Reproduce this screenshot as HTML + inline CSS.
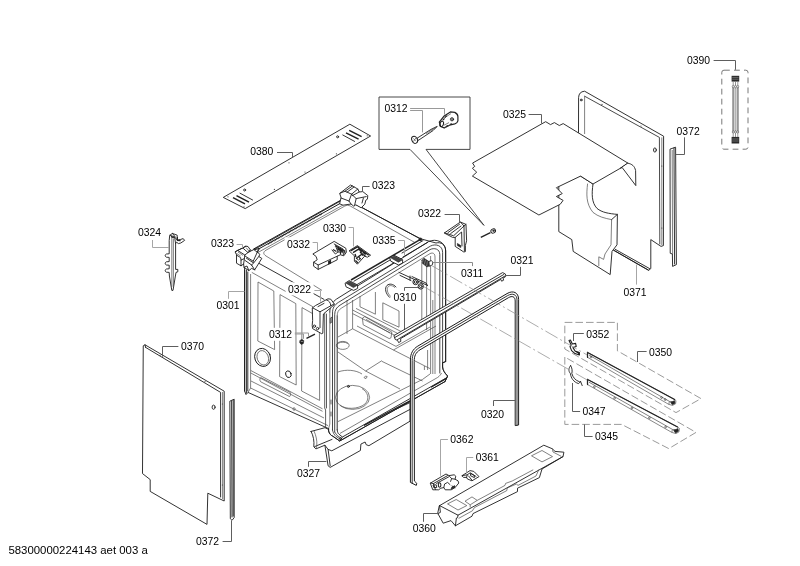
<!DOCTYPE html>
<html><head><meta charset="utf-8"><title>Explosionszeichnung</title>
<style>
html,body{margin:0;padding:0;background:#fff;}
body{width:800px;height:566px;overflow:hidden;}
svg{display:block;filter:grayscale(1);}
text{font-family:"Liberation Sans",sans-serif;font-size:10.4px;fill:#000;}
.m{fill:none;stroke:#1c1c1c;stroke-width:.9;stroke-linejoin:round;stroke-linecap:round;}
.w{fill:#fff;stroke:#1c1c1c;stroke-width:.9;stroke-linejoin:round;stroke-linecap:round;}
.g{fill:none;stroke:#4a4a4a;stroke-width:.7;stroke-linejoin:round;}
.l{fill:none;stroke:#5e5e5e;stroke-width:1;stroke-linejoin:miter;}
.ll{stroke:#a6a6a6;}
.d{fill:none;stroke:#808080;stroke-width:.8;stroke-dasharray:7.6 3;}
.ax{fill:none;stroke:#888;stroke-width:.7;stroke-dasharray:14 3 2 3;}
.k{fill:#222;stroke:#222;stroke-width:.6;}
</style></head><body>
<svg width="800" height="566" viewBox="0 0 800 566">
<rect width="800" height="566" fill="#fff"/>


<!-- 0380 strip -->
<g id="p0380">
<path class="w" d="M350.2 124.4 L370.6 136 L245.2 208.6 L223.6 197.6 Z"/>
<path d="M346 132.8 L358.6 139.2 M349.2 130.4 L361.6 136.6 M233 197.6 L245 203.8 M236.5 195.6 L249 202.2" stroke="#222" stroke-width="1.5" fill="none"/>
<path class="m" d="M342.8 135 L354.6 141.4 M240 193.2 L252.6 200"/>
<circle class="m" cx="337.6" cy="136.8" r="1"/><circle class="m" cx="244.6" cy="190" r="1"/>
<g fill="#444"><circle cx="367.2" cy="135.8" r=".6"/><circle cx="336.4" cy="153.8" r=".6"/><circle cx="305" cy="172" r=".6"/><circle cx="289" cy="162.8" r=".6"/><circle cx="274.4" cy="189.4" r=".6"/><circle cx="228" cy="196.8" r=".6"/><circle cx="244" cy="206.8" r=".6"/></g>
<path class="l" d="M277 152.5 L292.5 152.5 L292.5 157.5"/>
</g>
<!-- 0324 -->
<g id="p0324">
<path class="w" d="M170 235.2 L172.4 233.4 L177.2 235.2 L177.2 240 L180.8 239.4 L183.2 238.6 L184.6 240.4 L180.8 243 L178.4 243.6 L176.6 242.2 L175.6 243.6 L175.6 269.4 L177.8 269.4 L177.8 271.8 L176 272.4 L175.4 276 L173 290.4 L171.8 290.4 L169.4 276 L169.2 272.4 L166.4 272.2 C164.8 271.6 164.8 269.6 166.4 269 L169.2 268.8 L169.2 265.2 L166.4 265 C164.8 264.4 164.8 262.4 166.4 261.8 L169.2 261.6 L169.2 257.4 L166.4 257.2 C164.8 256.6 164.8 254.6 166.4 254 L169.2 253.8 L169.2 241 Z"/>
<path class="g" d="M171.8 237 V287 M173.4 239 V286"/>
<path class="m" d="M170 235.2 L174.6 237 L177.2 240 M174.6 237 L175.6 243.6 M172.4 233.4 L175 236.6"/>
<path d="M171 236.4 L174 238 M177.4 237 L177.4 240.4 L180.6 240.6" stroke="#222" stroke-width="1.2" fill="none"/>
<path class="l ll" d="M152.5 240 L152.5 247.5 L169 247.5"/>
</g>
<!-- 0312 box -->
<g id="box0312">
<path class="m" style="stroke:#333" d="M379.4 97 H470 V149.4 H426 L484 225.4 L410 149.4 H379.4 Z"/>
<path class="l" style="stroke:#999;stroke-width:1" d="M408.6 108.5 L444.5 108.5 L444.5 114.6 M408.6 110.5 L422.5 110.5 L422.5 132.4"/>
<path class="w" d="M417.4 138 L431 129.4 L437.2 126.4 L433 130.6 L418.6 140.2 Z"/>
<path d="M426 133.4 L436 127.2" stroke="#555" stroke-width="1.6" stroke-dasharray=".6 .6" fill="none"/>
<ellipse class="w" cx="414.6" cy="139.8" rx="2.7" ry="3.7" transform="rotate(-25 414.6 139.8)" style="stroke-width:1"/>
<path class="g" d="M413.4 138.4 L415.8 141.2 M415.8 138 L413.4 141.6"/>
<path d="M439.3 122.1 L444.2 115.9 L450.4 111.9 L454.8 112.4 C457 113.6 457.9 115 457.9 116.4 L457.9 120.8 C457.4 122.6 456.4 123.4 454.8 123.9 L449.5 125.2 L444.2 127.9 L440.7 126.5 Z" fill="#fff" stroke="#222" stroke-width="1.2" stroke-linejoin="round"/>
<ellipse class="m" cx="441.7" cy="124" rx="1.7" ry="2.8" transform="rotate(20 441.7 124)" style="stroke-width:1"/>
<path class="g" d="M441 121.6 L446.6 116.4 L451 113.6 M443.6 125.4 L449 122.6 M444.2 127.9 L449.5 125.2"/>
<path d="M444.6 117.6 L447 115.6 M443 120 L444.4 118.6 M446 126.4 L448 125.4 M450 124.2 L452 123.8" stroke="#222" stroke-width="1.1" fill="none"/>
<circle class="m" cx="452" cy="119.3" r="1.6"/>
<path d="M451 118.4 L453 120.2 M453 118.4 L451 120.2" stroke="#222" stroke-width=".6"/>
</g>

<!-- 0371 panel -->
<g id="p0371">
<path class="w" d="M578.6 97.2 C578.8 93.6 580.6 91.6 584.6 91.2 L663.6 136.2 L663.4 245.6 L661 246.4 L650.8 239.6 L650.8 268.6 L648.6 270.4 L578.6 230 Z"/>
<path class="m" d="M584.6 96.2 L659.4 137.4 L659.8 244" style="stroke-width:.8"/>
<path class="g" d="M584.6 96.2 L584.6 134"/>
<path class="g" d="M661.8 137.4 V245"/>
<ellipse class="m" cx="654.9" cy="150" rx="1.4" ry="2.1"/>
<circle class="m" cx="581.2" cy="100" r=".9"/>
<g fill="#444"><circle cx="602" cy="104.4" r=".6"/><circle cx="641" cy="126" r=".6"/><circle cx="661.8" cy="166" r=".6"/><circle cx="661.8" cy="228" r=".6"/></g>
<path class="m" d="M614 250.4 L648.4 270 M615 249.2 L649.6 268.6"/>
<path class="l ll" d="M636.5 264.6 L636.5 284.6"/>
</g>
<!-- 0325 insulation -->
<g id="p0325">
<path class="w" d="M558.8 185.6 L558.8 231.6 L571.8 239.6 L573.2 251.4 L610.2 274.6 L612 251.4 L617 244.8 L617.4 214.4 C609 213.6 602 212.6 597 208.4 C591.6 202.6 591.6 194 593 184 L580.4 176 Z"/>
<path class="g" d="M587.6 183.6 C586.4 194 585.8 203.6 593 212.4 C598 216.6 605 218.4 611.6 219.6 L611 244.8 L605 254 L603.6 259.4 L598.8 256.8 L598.8 266"/>
<path class="m" d="M617.4 214.4 L611.6 219.6"/>
<path class="w" d="M542.2 123.6 L545.7 121.7 L550.5 124.6 L554.4 122.6 L559.3 125.5 L563.2 123.6 L628 163.2 L620.8 168 L593 184 L580.6 176.1 L556.4 187.7 L562.2 193.6 L556.4 196.5 L563.1 200.4 L560.2 204.3 L538.9 215 L472.4 176.1 L476.7 172.2 L472.4 168.3 L474.7 166.4 L472.8 163.4 Z"/>
<path class="w" d="M628 163.2 C632 164 634.6 166 635.6 170.6 L635.8 185.6 L622.2 167.6 L620.8 168 Z"/>
<path class="l" d="M527.6 114.5 L541.5 114.5 L541.5 123.6"/>
</g>
<!-- 0372 right strip -->
<g id="p0372r">
<path class="w" d="M670.4 149 L675.6 147.2 L676.4 264.6 L672.6 266.4 L672.4 254 L670.6 253.4 Z"/>
<path class="m" d="M674 148 L674.6 264"/>
<path class="g" d="M672.2 150 L672.6 254"/>
<path class="l" d="M684.5 136.4 L684.5 154.5 L676 154.5"/>
</g>
<!-- 0390 -->
<g id="p0390">
<rect class="d" x="721.8" y="70.2" width="26.2" height="79" rx="2.2" style="stroke-dasharray:5.8 4.2;stroke:#6a6a6a;stroke-width:.9"/>
<path class="l" d="M713.6 60.5 L735.5 60.5 L735.5 69.8"/>
<rect x="731.6" y="75.8" width="7.6" height="5.8" fill="#2a2a2a"/>
<rect x="731.6" y="136.9" width="7.6" height="6.6" fill="#2a2a2a"/>
<path d="M732.2 77.4 H738.6 M732.2 79.2 H738.6 M732.2 139 H738.6 M732.2 141 H738.6" stroke="#aaa" stroke-width=".5" fill="none"/>
<path d="M733.2 81.6 V137 M735.6 81.6 V137 M737.8 81.6 V137" stroke="#fff" stroke-width=".4" fill="none"/>
<path style="fill:none;stroke:#444;stroke-width:1.5" d="M733.2 87.6 V131 M735.5 87.6 V131 M737.8 87.6 V131"/>
<path style="fill:none;stroke:#fff;stroke-width:.6" d="M733.2 87.6 V131 M735.5 87.6 V131 M737.8 87.6 V131"/>
<g fill="#fff" stroke="#333" stroke-width=".55"><ellipse cx="733.2" cy="86.6" rx=".9" ry="1.3"/><ellipse cx="735.5" cy="86.6" rx=".9" ry="1.3"/><ellipse cx="737.8" cy="86.6" rx=".9" ry="1.3"/><ellipse cx="733.2" cy="132" rx=".9" ry="1.3"/><ellipse cx="735.5" cy="132" rx=".9" ry="1.3"/><ellipse cx="737.8" cy="132" rx=".9" ry="1.3"/></g>
<path style="fill:none;stroke:#3a3a3a;stroke-width:.55" d="M733.2 81.6 V85.2 M735.5 81.6 V85.2 M737.8 81.6 V85.2 M733.2 133.4 V137 M735.5 133.4 V137 M737.8 133.4 V137"/>
</g>

<!-- 0370 left panel -->
<g id="p0370">
<path class="w" d="M143.6 345.6 L145 344.8 L224.2 391.2 L224.2 501 L207.8 493.2 L207 524.4 L150.2 491.4 L150.2 479.6 L142.8 473.8 Z"/>
<path class="m" d="M145.6 347.4 L220.6 392.4 L220.6 497 M145 344.8 L145.6 347.4"/>
<path class="g" d="M222.6 392 V499"/>
<ellipse class="m" cx="213.6" cy="407.2" rx="1.5" ry="2.1"/>
<g fill="#444"><circle cx="160" cy="355.4" r=".6"/><circle cx="162.6" cy="357.2" r=".6"/><circle cx="205" cy="381.6" r=".6"/><circle cx="222.4" cy="404" r=".6"/><circle cx="222.4" cy="485" r=".6"/></g>
<path class="l" d="M178.6 346.5 L162.5 346.5 L162.5 356.6"/>
</g>
<!-- 0372 left strip -->
<g id="p0372l">
<path class="w" d="M230.2 401 L234.2 399.2 L234.2 517.6 L232 520.4 L230.6 519 Z"/>
<path class="m" d="M231.6 401 L232 517 M233.2 400.2 V516"/>
<path class="l" d="M222.6 541.5 L231.5 541.5 L231.5 520.6"/>
</g>
<!-- rails dashed boxes -->
<g id="rails">
<path class="d" d="M564.8 322.4 H617.4 V350.8 L701 398.6 L676 412.6 L564.8 349 Z"/>
<path class="d" d="M564.8 357 V424.4 H621.6 L668.8 448.6 L696 432.4 Z"/>
<!-- upper rail 0350 -->
<path class="w" style="stroke:#555;stroke-width:.7" d="M587.6 352.4 L674.6 399.4 L676 400.6 L675.6 403.8 L672.6 405.4 L668.8 404.4 L587.6 357.4 Z"/>
<path d="M587.6 352.4 L674.6 399.4 M587.6 352.4 V357.4" stroke="#222" stroke-width="1.1" fill="none" stroke-linecap="round"/>
<path class="g" d="M589 355 L669.4 401.4 L672.4 401.6 M668.8 404.4 L669.4 401.4"/>
<path class="k" d="M670.6 402.4 L674.6 400.6 L675 403.2 L672.4 404.8 Z"/>
<g fill="none" stroke="#333" stroke-width=".6"><circle cx="591" cy="357" r=".9"/><circle cx="661.6" cy="397.6" r=".9"/><circle cx="665.2" cy="399.6" r=".9"/></g>
<!-- lower rail 0345 -->
<path class="w" style="stroke:#555;stroke-width:.7" d="M587.6 379.4 L677.6 427 L679.4 428.4 L679 431.8 L676 433.6 L671.8 432.4 L587.6 384.6 Z"/>
<path d="M587.6 379.4 L677.6 427 M587.6 379.4 V384.6" stroke="#222" stroke-width="1.1" fill="none" stroke-linecap="round"/>
<path class="g" d="M589 382.2 L672.4 429.4 L675.6 429.6 M671.8 432.4 L672.4 429.4"/>
<path class="k" d="M673.6 430.4 L678 428.6 L678.4 431.2 L675.6 433 Z"/>
<g fill="none" stroke="#333" stroke-width=".6"><circle cx="594.4" cy="386.8" r=".9"/><circle cx="614.6" cy="398.2" r=".9"/><circle cx="632" cy="408" r=".9"/><circle cx="649.4" cy="417.8" r=".9"/><circle cx="665.6" cy="427" r=".9"/></g>
<!-- 0352 clip -->
<path class="m" style="stroke-width:1.1" d="M569 340.6 L570.4 340 L572.4 344 L575.6 343.4 L576.2 346.4 L573 347.6 L575 351 L578.4 353 L579.4 355 L575 353.6 L571.6 350.6 L570 346.6 L571.2 345 Z M575 351 L579.4 352.6 L579.4 355"/>
<!-- 0347 hook -->
<path class="m" style="stroke-width:.9" d="M570.6 365.6 C568.6 368 568.2 371 570.4 373.6 C571 378 573.4 382 578.6 383.6 L580.6 381.6 L582.2 385.6 M570.6 365.6 C572 367.6 572.6 370.6 571.8 373.4 C573 377.6 575.4 380.4 579.6 381.8 L580.6 381.6"/>
<path class="l" d="M584.6 333.5 L573.5 333.5 L573.5 341 M647 351.5 L637.5 351.5 L637.5 362 M581 411.5 L572.5 411.5 L572.5 383 M593.4 436.5 L584.5 436.5 L584.5 424.4"/>
</g>

<!-- 0360 tray -->
<g id="p0360">
<path class="w" d="M439.6 505.6 L543.8 445.2 L552.4 448.8 L555 451.4 L563.9 452.2 L563 456.6 L542 469 L539.4 477.6 L517.5 488.2 L517.5 491.6 L473 513.6 L472 516.2 L455.4 525.8 L451 520.6 L443.2 523.2 L437.9 513.6 Z"/>
<path class="m" d="M439.6 505.6 L458 515.2 L563 456.6 M458 515.2 L457.6 517.6 L456.4 518 L455.4 525.8 M437.9 513.6 L440.4 512.4 L439.6 505.6"/>
<path class="g" d="M477.2 500.4 L505 485.4 L505.6 483.4 L512.2 481 L533.2 469.8 M552.4 448.8 L553 452 L561.4 456.4"/>
<path class="g" d="M447.5 503.9 L456.2 499.5 L466.8 505.6 L458 510 Z M531.5 455.8 L542 450.5 L552.5 456.6 L542 461.9 Z M465 501.2 L472 496.9 L477.2 500.4 L470.2 504.8 Z M470.2 504.8 V507.4"/>
<path class="g" d="M458.6 518.4 L472.4 510.8 L474.4 507.6 L506.8 490.6 L507.2 488 L516.4 484 L518 485.4 L536 476 L538.8 469.6"/>
<path class="l" d="M423.5 524 L423.5 513.5 L438 513.5"/>
</g>
<!-- 0362 -->
<g id="p0362">
<path class="w" d="M430.6 483 L446 474 L449 475.6 L454.2 474.8 L455.8 476.2 L455 479.2 L458 480.8 L458.8 483 L455 487.6 L451.2 489.8 L445.2 489.8 L443.8 487.6 L440.8 488.2 L438.6 489.8 L433.2 489.8 Z"/>
<path class="m" d="M430.6 483 L433.4 483.6 L447.6 475.6 M433.4 483.6 L435.4 489.4 M436.6 483.4 L449.6 476.4 L451.6 478.6 L450.6 481.4 M443.8 487.6 L444.6 484 L447.6 482.4 L450 484.6 M451.6 478.6 L455 479.2 M452 486 L455 487.6"/>
<path class="m" d="M433.4 485 L436.2 484.8 L436.8 487.4 L434.2 487.6 Z"/>
<ellipse cx="439.6" cy="485" rx="1.3" ry="2.2" fill="#fff" stroke="#222" stroke-width="1.1"/>
<path class="k" d="M451 488 L454.6 485.6 L455 486.8 L451.6 489.2 Z"/>
<path class="l ll" d="M448.4 439.5 L440.5 439.5 L440.5 475.8"/>
</g>
<!-- 0361 -->
<g id="p0361">
<path class="w" d="M462.2 475.6 L470 470.6 L473.8 471.4 L479 476.6 L472 480.8 L467.4 479 L466.6 477.4 L464 477.4 Z"/>
<path class="m" d="M466.6 477.4 L467.2 474.8 L470.2 472.8 L476 476.4 M462.2 475.6 L467.2 474.8 M470.8 473.6 L474.4 475.6 L474.4 477.6 L471 476 Z M468.6 476 L472 480.2"/>
<path class="l ll" d="M473.8 457.5 L466.5 457.5 L466.5 472.6"/>
</g>
<!-- 0327 base -->
<g id="p0327">
<path class="w" d="M311.1 431.4 L325 427.7 L340 435 L410 402.6 L410 421.2 L368.9 445.7 L366.2 444.7 L365.1 442 L360.9 444.1 L360.4 450.5 L330.2 467.4 L328.1 465.8 L324.9 445.2 L315.9 448.9 L313.8 446.8 C314.4 441 313.4 436 311.1 431.4 Z"/>
<path class="m" d="M324.9 445.2 L328.1 449.4 L331.8 450.8 L410 409.4 M328.1 449.4 L330.2 465.8 M314.6 446.6 L332 439.4"/>
<path class="g" d="M315.9 448.9 L316.8 446 C317.2 440 316 435.6 314 431"/>
<path class="l" d="M308.5 470 L308.5 461.5 L326.4 461.5"/>
</g>

<!-- TUB 0301 -->
<g id="tub">
<!-- silhouette -->
<path class="w" d="M244.6 262 L244.6 391 L246 394.6 L248 392.4 L328.6 428.6 L328.6 431 C329.4 434 331 435.4 332.8 436.2 L339.7 441 L445 381.6 L447.6 376 C444.6 373 442.8 370 442.6 367 L442.6 362.8 L445.6 361.6 L445.6 250 C445.4 245 441 241.6 436 243 L420 238.6 L362.2 207.7 L344 199 L250 252 Z"/>
<!-- top face lines A-B -->
<path class="m" d="M253.6 249 L340 200.6 M255 251 L341.6 202.6" style="stroke-width:1"/>
<path class="g" d="M257 253 L343 205"/>
<path d="M268 244 L322 213.6" stroke="#222" stroke-width="1.6" stroke-dasharray=".8 .8" fill="none"/>
<!-- back-right top edge -->
<path class="m" d="M362.2 207.7 L420 238.6"/>
<!-- inner rounded top face -->
<path class="g" d="M322 290.4 L266 256 C263 254 263 252 266 250.2 L344.6 206.2 C346.6 205 348.6 205 350.6 206.2 L415 242.6"/>
<!-- front-left top edge A-D -->
<path class="m" d="M258 262.8 L324 299.4"/>
<path class="g" d="M251.8 272.4 L313 306.8"/>
<!-- left vertical edges -->
<path class="m" d="M244.6 270 V391 M246.4 270 V393 M247.8 272 V391" />
<path class="g" d="M250.6 274 V388"/>
<!-- side panel embossing -->
<path class="g" d="M258 282 L273.8 291 L274.6 349.6 L257.8 341 Z"/>
<path class="g" d="M280 294.6 L295.8 303.6 L296.2 385 L279.6 376.6 Z"/>
<path class="g" d="M302 307.6 L319.4 317.4 L319.6 400.4 L301.6 391 Z"/>
<ellipse class="m" cx="262.6" cy="357.4" rx="7.8" ry="9.2" transform="rotate(-20 262.6 357.4)"/>
<ellipse class="g" cx="262.8" cy="357.8" rx="5.6" ry="7.4" transform="rotate(-20 262.8 357.8)"/>
<ellipse class="m" cx="288.4" cy="374.2" rx="2.7" ry="3.4" transform="rotate(-20 288.4 374.2)"/>
<!-- side bottom bars -->
<path class="g" d="M250.8 370.5 L322.5 408.8 M250.8 373 L322.5 411.3 M251 381 L324 418 M260.7 377.6 C259.6 378.6 259.6 380.6 260.7 381.8 L289.6 396.6 C290.8 395.6 290.8 393.6 290.2 392.4 Z"/>
<path class="g" d="M248 392.4 L250.6 388 L328 425.6 M294 407.6 a1 1.4 0 1 0 .1 0"/>
<!-- interior (door opening) -->
<!-- interior back wall & floor -->
<path class="g" d="M360 296 V306.8 L375.4 314.2 V292 M382.8 302.8 L399 311 V327.2 L382.8 319.8 Z M352.6 300 V328.8 L338 337 M352.6 310 L401.4 335.4 M356 308.4 L404 333 M352.6 313.6 L398 337 M352.6 328.8 L393.4 350 L436 326 M357 326 L396 346.4 L430 327 M362.4 318.2 L364.8 316.6 L391.8 332 L391 337.8 L389.2 338.6 L363.2 324.8 Z M366 319.4 L390 333 M347 300 V334"/>
<ellipse class="g" cx="342.8" cy="345.4" rx="6.4" ry="4"/>
<path class="g" d="M338 343.4 C341 341.6 345 341.8 348 343.6"/>
<path class="g" d="M338 352 L365.6 371 L382 360.6 M382 361.4 L422.6 381 M365.6 371 L400 389 M393.4 350 L430 368.6 M338 372 C346 369 356 370 362 374 M364 377.6 l1.6 -1.6 l1.6 .6 l-1.2 2 Z"/>
<!-- sump circles -->
<ellipse class="g" cx="352.6" cy="397.4" rx="17" ry="12"/>
<path class="g" d="M340 405 C345 409.6 358 409.6 365 404 C370 399 368 392 362 388.6"/>
<circle class="m" cx="348.4" cy="386.4" r="1"/>
<!-- right interior -->
<path class="g" d="M421.8 262 V322 M426.6 266 V330 M430.6 256 V374 M432.8 300 V374 M427.6 350 V370 M424.4 366 l0 4"/>
<path class="g" d="M338 421.6 L422.6 379.4 L430 374"/>
<!-- front frame -->
<path class="m" d="M324.7 313 V408 L325.6 410 V427 M326.5 314 V408" style="stroke-width:.8;stroke:#333"/>
<path class="g" d="M329.8 312 V424 L328.6 428.6"/>
<path class="m" d="M329.8 312 C329.8 306 332.4 302 336.6 299 L428.6 241.6 C436 238 445.7 242 445.7 251 L445.7 361.6"/>
<path class="m" d="M332.5 430 L332.5 313 C332.5 308 334.4 305 338.4 302.4 L430.6 246 C436 243.4 442.6 245.6 442.6 252.4 L442.6 363" style="stroke-width:.8"/>
<path class="m" d="M334.7 432 L334.7 314.6 C334.7 310 336.6 307.4 340 305.2 L430 249.6 C434 247.6 439.8 248.6 439.8 254.6 L439.8 373" style="stroke-width:.8"/>
<path class="m" d="M337.2 429.8 L337.2 316"/>
<path class="g" d="M337.2 316 C337.2 312 338.4 310 341.6 308 L430 253.6 C433 252.2 435 253.6 435 257 L435 374"/>
<path class="m" d="M330.6 318 l1.2 -.8 v5 l-1.2 .8 Z M331 400 v4 M331 412 v4" style="stroke-width:.7"/>
<!-- front bottom -->
<path class="m" d="M328.6 428.6 L328.6 431 C329.4 434 331 435.4 332.8 436.2 L339.7 441 L445 381.6 M337.2 429.8 C337.4 432 338 433.4 338.8 434 L342.4 437 L447 377.6"/>
<path class="m" d="M332.5 430 C333 433 334.4 435 336 436.4 L340.6 439.4 M334.7 432 L337 435.4 L341.4 438.4 M339.7 441 L342.4 437" style="stroke-width:.7"/>
<circle class="m" cx="340.4" cy="438.6" r="1" style="stroke-width:.7"/>
<path class="g" d="M340 433.4 L436 378.4 C438 377.4 440 376 441.6 373"/>
<path d="M364 425.4 L411 400.2 M431 387.2 L446.4 378.4" stroke="#222" stroke-width="1.3" fill="none"/>
<path class="m" d="M445.6 361.6 L442.6 362.8 L442.6 367 C442.8 370 444.6 373 447.6 376 L445 381.6"/>
</g>

<!-- clips and small parts on tub -->
<g id="smallparts">
<!-- back clip 0323 -->
<path class="w" d="M340 193.2 L350.6 185 L357.8 189 L359.2 192 L362.8 191.6 L367.8 195.6 L367.4 199.2 L365.8 200.2 L364.8 204.2 L361.2 207.8 L355.8 204.8 L353.8 206.2 L351 204 L343 205.2 L339.6 203.8 L341 198 Z"/>
<path class="m" d="M340 193.2 L345 191.2 L351.6 194.2 L356.2 198.6 L366.2 196.6 M351.6 194.2 L357.8 189 M356.2 198.6 L354.6 205.2 M345 191.2 L352.4 186 M347 192.2 L354 187 M359.2 192 L352.4 195.6 M341 198 L349 201 L351 204 M349 201 L351.6 194.2 M362 203 L363.4 198"/>
<path class="l" d="M370.8 186.5 L362.5 186.5 L362.5 191.6"/>
<!-- left clip 0323 -->
<path class="w" d="M235.4 251.7 L245.8 246.2 L248 246.5 L250.3 249.9 L249.5 251.7 L257.7 247.6 L259.2 249.1 L257.3 252.1 L259.9 254.3 L258.8 256.5 L261.8 258.4 L254.7 269.9 L251.7 268.4 L248.8 270.6 L244 267.3 L243.6 264 L241 265.8 L236.5 263.2 L236.5 255.1 Z"/>
<path class="m" d="M235.4 251.7 L237.6 250.4 L244.8 255 L244.4 258.6 L241 260 L241 265.8 M237.6 250.4 L242.8 248 L248 252.6 L250.3 249.9 M242.8 248 L245.8 246.2 M236.5 255.1 L240.6 257.6 L241 260 M244.8 255 L248 252.6 L249.5 251.7 M244.4 258.6 L243.6 264"/>
<path class="m" d="M245 256 L253.2 261.2 M246.4 258.2 L253.6 263 M245 260.4 L251.6 265 M253.2 261.2 L257.3 252.1 M251.6 265 L254.7 269.9 M254.6 249.8 L258.4 248.6 L257.6 252 Z M251.6 265 L253.6 263 L258.8 256.5 M248.8 270.6 L247 266 L244 267.3"/>
<path class="g" d="M236.4 253.4 L240.6 256 M238 252 L243 255.4 M246 247.6 L249 251"/>
<path class="l ll" d="M236 244.5 L242.5 244.5 L242.5 248"/>
<!-- 0322 right clip -->
<path class="w" d="M444.6 232.8 L460.4 222 L466 224.4 L466.6 240.8 L465.4 245.4 L465.4 251.6 L463.8 252 L455.2 246.4 L455.2 237.4 L453 237.4 Z"/>
<path class="m" d="M444.6 232.8 L453.6 235.8 L464 226 L460.4 222 M464 226 L464.4 251 M466 224.4 L464 226 M455.2 237.4 L461.6 232 L462 246 M448 232.6 L459.6 224.2 M450.6 233.6 L461 226"/>
<path class="k" d="M457.4 243.4 L460.8 245.6 L460.8 247.6 L457.4 245.6 Z"/>
<path class="l" d="M444.6 214.5 L459.5 214.5 L459.5 222.4"/>
<!-- small screw right -->
<path d="M480.8 237.4 L490.4 232.6" stroke="#222" stroke-width="1.3" fill="none"/>
<ellipse class="w" cx="493.2" cy="231" rx="2.4" ry="2" transform="rotate(-25 493.2 231)"/>
<ellipse class="k" cx="493.6" cy="230.8" rx="1" ry=".8"/>
<!-- 0332 -->
<path class="w" d="M313.2 253.8 L334.2 241.4 L345.8 248.2 L346.4 252.2 L343.8 255.8 L340.4 254.8 L337.2 256.2 L337.2 259.8 L318.2 269.4 L313.6 266.2 L313.6 262.2 L317.2 259.8 L316.2 256.8 Z"/>
<path class="m" d="M313.6 262.2 L318.2 265 L337.2 256.2 M318.2 265 V269.4 M334.2 244 L343 249 L343.4 255 M336 247 L338 252 L342.6 252 M332 250 L335.4 254 L338 252 M328.6 261.4 V264.2 M330.6 260.4 V263.2"/>
<path class="k" d="M337.6 247.6 L342.6 250 L342.6 252.2 L337.6 249.8 Z M329 261 L330.4 260.4 L330.4 263.4 L329 264 Z"/>
<path d="M335 245.6 L344.6 250.8 L345 253.6 M340.4 251.4 L340.6 254.6 M333 249.6 L336.4 251.6" stroke="#222" stroke-width="1.2" fill="none"/>
<path class="l ll" d="M311.2 242.5 L317.5 242.5 L317.5 250.6"/>
<!-- 0330 -->
<path class="w" d="M349.4 250.6 L357.4 245.6 L370.6 255.2 L367.4 257.2 L364.6 256.2 L357.4 264.2 L354.4 261.2 L354.4 256.2 Z"/>
<path d="M350.6 250.8 L357.4 246.8 L368.8 255.2 M353 252.6 L358.6 249.2 L365.8 254.4 M356 258.6 L362 254 L365.4 256 M355.4 260.6 L358 263 M358.4 256.8 L360.4 259.4 M355 254 L356 257 M360 251.6 L363 255.6" stroke="#222" stroke-width="1.4" fill="none"/>
<circle class="w" cx="358.6" cy="258.6" r="1.4"/><circle class="w" cx="362.4" cy="252.4" r="1"/>
<path class="l ll" d="M347.6 227.5 L353.5 227.5 L353.5 246.4"/>
<!-- 0335 rod -->
<path d="M351 280 L420 239.6" stroke="#222" stroke-width="1.5" fill="none"/>
<path class="m" d="M354 281.2 L390 260 M402 253 L423 240.6 M357 284.6 L392 264 L395.4 259.4 L399 259.6 M403 257 L427.6 242.4"/>
<circle class="k" cx="420.4" cy="239.4" r="1.5"/>
<path class="w" d="M345.4 283 L349.2 280.6 L357.6 285 L357.6 288.4 L353.6 290.4 L346.4 287 Z"/>
<path d="M346.2 283.2 L349.4 281.4 L357 285.4 L353.4 287.6 Z" fill="#444" stroke="#222" stroke-width=".6"/>
<path class="w" d="M390 257.6 L394 255.2 L402.6 259.6 L402.6 263 L398.6 265 L391.2 261.4 Z"/>
<path d="M390.8 257.8 L394.2 256 L402 260 L398.4 262.2 Z" fill="#444" stroke="#222" stroke-width=".6"/>
<path class="l ll" d="M397 240.5 L404.5 240.5 L404.5 256"/>
<!-- 0311 roller -->
<path class="w" d="M428.6 261.6 L431.4 260.6 C433 261.6 433 264 432 265.2 L429.2 266.2 Z"/>
<path d="M421.6 260.4 L424 258.2 L429 261.6 L429.4 265.6 L427 267 L422.6 263.4 Z" fill="#333" stroke="#222" stroke-width=".6"/>
<path d="M423.4 259 L422.4 262.4 M425.4 260 L424.4 264.4 M427.4 261.2 L426.6 266" stroke="#ddd" stroke-width=".4" fill="none"/>
<path class="l" style="stroke:#8a8a8a" d="M472.5 267.6 L472.5 262.5 L432.6 262.5"/>
<!-- 0310 rollers -->
<path class="m" d="M399 272.4 L427.4 285.4 M400 275.4 L411 280.6 M412 276.6 L426 283 L427.4 285.4 M410 276 V280"/>
<circle class="w" cx="415.6" cy="282" r="2.7" style="stroke-width:1"/><circle class="m" cx="415.6" cy="282" r="1.3"/>
<circle class="w" cx="420.8" cy="286.4" r="2.7" style="stroke-width:1"/><circle class="m" cx="420.8" cy="286.4" r="1.3"/>
<path class="l" d="M418.2 287.5 L404.5 287.5 L404.5 293.2 M404.5 302.6 L404.5 337"/>
<path class="m" d="M389.6 297.4 C385.4 293.4 384.4 288.4 387 285.4 C389.4 283.4 393 283.6 396 287"/>
<path class="g" d="M390.8 296.6 C387.2 293 386.4 289 388.2 286.6 C390 285 392.6 285.2 395 287.8"/>
<!-- front-left 0322 clip -->
<path class="w" d="M312.6 307.8 L315.4 305.6 L328 298.8 L330.8 299.2 L334.6 304.4 L323.4 314 L322.8 333.2 L321.8 333.8 L312.6 328.6 L312.2 325.4 L312.6 320.8 Z"/>
<path class="m" d="M312.6 307.8 L320 311.8 L334 304 M320 311.8 L320 327.6 M326.6 300 C329 300.4 330.6 302.6 330.8 305.6 M318 306.6 L324 303.4"/>
<circle class="m" cx="314.4" cy="326.2" r="1.2"/><circle class="m" cx="317.6" cy="328.6" r="1.2"/>
<path class="l ll" d="M314.4 290.5 L320.5 290.5 L320.5 301.6"/>
<!-- small 0312 screw left -->
<path d="M306.5 338.4 L315 334.2" stroke="#222" stroke-width="1.3" fill="none"/>
<path class="k" d="M299.8 340.6 L301.8 339.4 L303.8 340.6 L303.4 343.4 L301.4 344.4 L299.8 343 Z"/>
<path d="M300.6 341 L302 341.8 L303.2 341" stroke="#ddd" stroke-width=".5" fill="none"/>
<path class="l" style="stroke:#999" d="M294.6 333 L308.5 333 L308.5 336.8 M294.6 334 L303.5 334 L303.5 338.8"/>
<!-- 0301 leader -->
<path class="l ll" d="M228.5 303 L228.5 291.5 L244.4 291.5"/>
</g>
<!-- 0320 seal -->
<g id="p0320">
<path class="m" style="fill:#fff;stroke-width:1" d="M410.4 482 L410.4 360 C410.4 353.6 412.8 349.2 417.8 346.1 L507 293.6 C513 290 518.6 292.4 518.6 299.4 L518.6 425 L515.2 425.6 L515.2 301 C515.2 296.4 512 295.6 508.6 297.6 L420 349.8 C415.6 352.6 414.2 356 414.2 361.4 L414.4 481 L416.8 483.4 L416.4 485 Z"/>
<path class="m" d="M412.2 483 L412.2 360.6 C412.2 354.6 414.2 351 418.8 348 L507.6 295.6 C512.4 292.8 517 294.4 517 299.8 L517 425"/>
<path class="l" d="M493.5 406 L493.5 400.5 L515.2 400.5"/>
</g>
<!-- 0321 strip -->
<g id="p0321">
<path class="w" d="M394.2 335.4 L502.6 272.6 L505.4 274 L505.6 276.6 L503 278.2 L503.6 280.2 L501.6 281.2 L500.8 279.4 L400.6 338.6 L400.8 341.4 L398.6 342.6 L397.6 340.4 L395.6 339.6 Z"/>
<path class="m" d="M395 337.4 L503.6 274.6 M397.4 339.6 L505 276"/>
<path class="l" d="M520.5 266.4 L520.5 275.5 L505 275.5"/>
</g>

<g id="axes">
<path class="ax" d="M431 265.2 L587 354.9 M423 286.2 L587 379.9"/>
</g>
<!--PARTS-->
<g id="labelbg" fill="#fff" stroke="none">
<rect x="684.6" y="53.8" width="28" height="13"/>
<rect x="382.1" y="101.6" width="28" height="13"/>
<rect x="500.6" y="107.6" width="28" height="13"/>
<rect x="674.2" y="124.3" width="28" height="13"/>
<rect x="247.8" y="145.2" width="28" height="13"/>
<rect x="369.6" y="178.8" width="28" height="13"/>
<rect x="415.6" y="206.8" width="28" height="13"/>
<rect x="135.6" y="225.8" width="28" height="13"/>
<rect x="320.6" y="221.3" width="28" height="13"/>
<rect x="208.6" y="237" width="28" height="13"/>
<rect x="284.6" y="237.3" width="28" height="13"/>
<rect x="370.1" y="233.8" width="28" height="13"/>
<rect x="458.6" y="266.1" width="28" height="13"/>
<rect x="507.6" y="253.8" width="28" height="13"/>
<rect x="285.6" y="282.3" width="28" height="13"/>
<rect x="391.1" y="290.8" width="28" height="13"/>
<rect x="621.1" y="285.8" width="28" height="13"/>
<rect x="214.1" y="298.8" width="28" height="13"/>
<rect x="266.6" y="327.8" width="28" height="13"/>
<rect x="178.6" y="340.1" width="28" height="13"/>
<rect x="583.8" y="327.6" width="28" height="13"/>
<rect x="646.6" y="345.8" width="28" height="13"/>
<rect x="580.1" y="405.1" width="28" height="13"/>
<rect x="478.6" y="407.8" width="28" height="13"/>
<rect x="592.6" y="429.8" width="28" height="13"/>
<rect x="447.9" y="432.6" width="28" height="13"/>
<rect x="473.3" y="450.6" width="28" height="13"/>
<rect x="294.6" y="466.8" width="28" height="13"/>
<rect x="410.3" y="521.8" width="28" height="13"/>
<rect x="193.6" y="534.8" width="28" height="13"/>
</g>
<g id="labels">
<text x="687" y="64">0390</text>
<text x="384.5" y="111.8">0312</text>
<text x="503" y="117.8">0325</text>
<text x="676.6" y="134.5">0372</text>
<text x="250.2" y="155.4">0380</text>
<text x="372" y="189">0323</text>
<text x="418" y="217">0322</text>
<text x="138" y="236">0324</text>
<text x="323" y="231.5">0330</text>
<text x="211" y="247.2">0323</text>
<text x="287" y="247.5">0332</text>
<text x="372.5" y="244">0335</text>
<text x="461" y="276.7">0311</text>
<text x="510.5" y="264.4">0321</text>
<text x="288" y="292.5">0322</text>
<text x="393.5" y="301">0310</text>
<text x="623.5" y="296">0371</text>
<text x="216.5" y="309">0301</text>
<text x="269" y="338">0312</text>
<text x="181" y="350.3">0370</text>
<text x="586.2" y="337.8">0352</text>
<text x="649" y="356">0350</text>
<text x="582.5" y="415.3">0347</text>
<text x="481" y="418">0320</text>
<text x="595" y="440">0345</text>
<text x="450.3" y="442.8">0362</text>
<text x="475.7" y="460.8">0361</text>
<text x="297" y="477">0327</text>
<text x="412.7" y="532">0360</text>
<text x="196" y="545">0372</text>
<text x="8.4" y="554.2" style="font-size:11.4px">58300000224143 aet 003 a</text>
</g>
</svg>
</body></html>
